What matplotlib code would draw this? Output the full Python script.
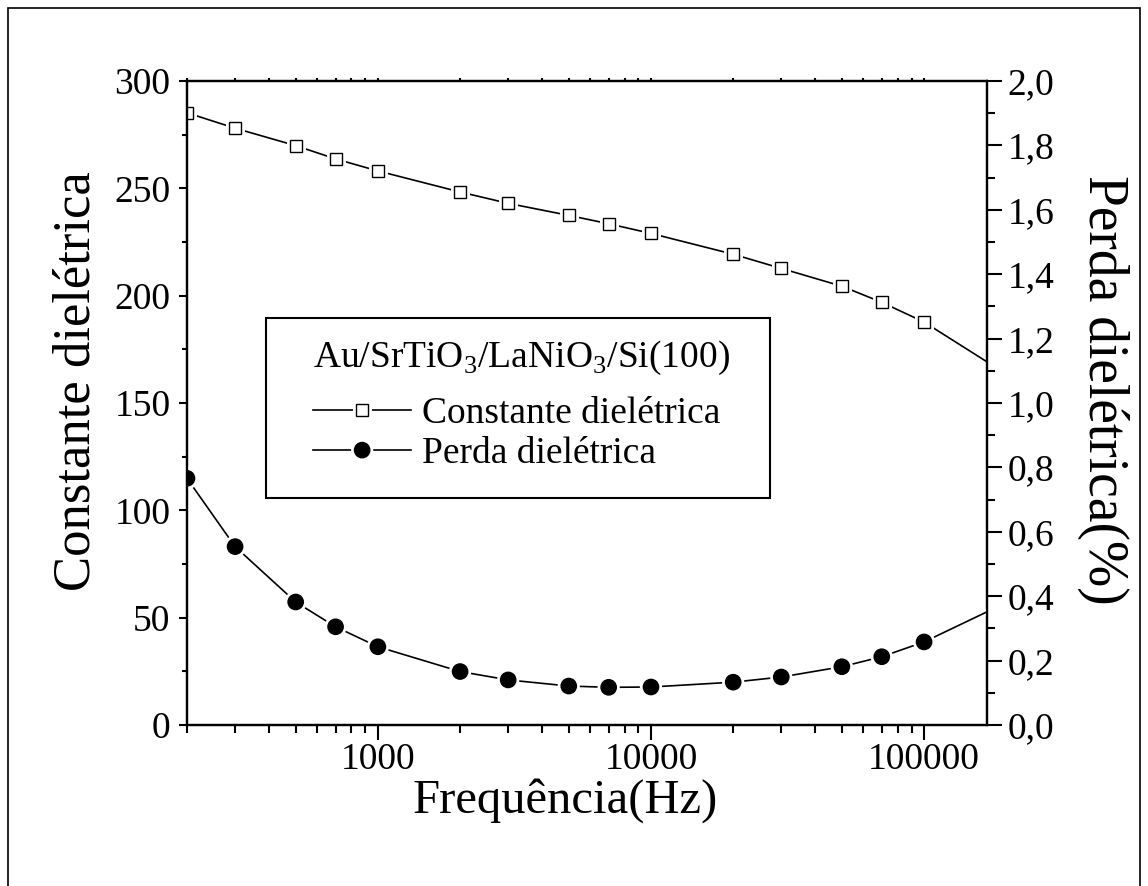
import matplotlib
matplotlib.use('Agg')
import matplotlib.pyplot as plt
import matplotlib.patheffects as pe
from matplotlib.patches import Rectangle
from matplotlib.ticker import FixedLocator, FixedFormatter, LogLocator, NullFormatter, MultipleLocator

# dados
freq = [200, 300, 500, 700, 1000, 2000, 3000, 5000, 7000, 10000,
        20000, 30000, 50000, 70000, 100000, 200000]
constante = [285.2, 278.0, 269.9, 263.7, 258.1, 248.3, 243.0, 237.4, 233.5, 229.0,
             219.3, 212.7, 204.4, 196.9, 187.7, 163.5]
perda = [0.766, 0.554, 0.382, 0.305, 0.243, 0.166, 0.140, 0.121, 0.117, 0.118,
         0.133, 0.149, 0.181, 0.212, 0.258, 0.380]

x_ticks = [1000, 10000, 100000]
x_labels = ['1000', '10000', '100000']
y2_ticks = [0.0, 0.2, 0.4, 0.6, 0.8, 1.0, 1.2, 1.4, 1.6, 1.8, 2.0]
y2_labels = ['0,0', '0,2', '0,4', '0,6', '0,8', '1,0', '1,2', '1,4', '1,6', '1,8', '2,0']

plt.rcParams['font.family'] = ['Liberation Serif', 'DejaVu Serif']
plt.rcParams['mathtext.fontset'] = 'custom'
plt.rcParams['mathtext.rm'] = 'Liberation Serif'

fig = plt.figure(figsize=(11.48, 8.86), dpi=100)
ax = fig.add_axes([187 / 1148, 1 - 725 / 886, 800 / 1148, 644 / 886])
ax2 = ax.twinx()

# moldura externa
fig.patches.append(Rectangle((8 / 1148, -0.1), 1132 / 1148, 878 / 886 + 0.1,
                             transform=fig.transFigure, fill=False,
                             ec='black', lw=1.2))

gap = [pe.Stroke(linewidth=5, foreground='white'), pe.Normal()]
h1, = ax.plot(freq, constante, color='black', lw=1.2, marker='s', ms=8.6,
              mfc='white', mec='black', mew=1.0, path_effects=gap,
              label='Constante dielétrica')
h2, = ax2.plot(freq, perda, color='black', lw=1.2, marker='o', ms=11,
               mfc='black', mec='black', mew=1.0, path_effects=gap,
               label='Perda dielétrica')

ax.set_xscale('log')
ax.set_xlim(200, 1.7e5)
ax.set_ylim(0, 300)
ax2.set_ylim(0, 2.0)

ax.xaxis.set_major_locator(FixedLocator(x_ticks))
ax.xaxis.set_major_formatter(FixedFormatter(x_labels))
ax.xaxis.set_minor_locator(LogLocator(subs=range(2, 10)))
ax.xaxis.set_minor_formatter(NullFormatter())
ax.yaxis.set_major_locator(MultipleLocator(50))
ax.yaxis.set_minor_locator(MultipleLocator(25))
ax2.yaxis.set_major_locator(FixedLocator(y2_ticks))
ax2.yaxis.set_major_formatter(FixedFormatter(y2_labels))
ax2.yaxis.set_minor_locator(MultipleLocator(0.1))

for a in (ax, ax2):
    for s in a.spines.values():
        s.set_linewidth(1.6)

ax.tick_params(axis='x', which='major', direction='out', length=10.8, width=1.5,
               labelsize=27, pad=2)
ax.tick_params(axis='x', which='minor', direction='out', length=5.8, width=1.5)
ax.tick_params(axis='y', which='major', direction='out', length=5.8, width=1.5,
               labelsize=27, pad=6)
ax.tick_params(axis='y', which='minor', direction='out', length=3.6, width=1.5)
ax2.tick_params(axis='y', which='major', direction='out', length=10.8, width=1.5,
                labelsize=27, pad=4)
ax2.tick_params(axis='y', which='minor', direction='out', length=5.8, width=1.5)

# pequenos tracos no eixo superior
ax2.xaxis.set_visible(True)
ax2.tick_params(axis='x', which='both', bottom=False, top=True, labelbottom=False,
                labeltop=False, direction='out', length=2.2, width=1.5)

ax.set_xlabel('Frequência(Hz)', fontsize=35)
ax.xaxis.set_label_coords(0.4725, -0.082)
ax.set_ylabel('Constante dielétrica', fontsize=38, labelpad=10)
ax.yaxis.label.set_y(0.534)
ax2.set_ylabel('Perda dielétrica(%)', fontsize=40, rotation=270, labelpad=54)
ax2.yaxis.label.set_y(0.52)

# legenda
ax2.add_patch(Rectangle((0.099, 0.3525), 0.63, 0.2795, transform=ax2.transAxes,
                        fc='white', ec='black', lw=1.5, zorder=4))
leg = ax2.legend(handles=[h1, h2], title='Au/SrTiO$_\\mathrm{3}$/LaNiO$_\\mathrm{3}$/Si(100)',
                 loc='upper left', bbox_to_anchor=(0.158, 0.5995), frameon=False,
                 fontsize=27, title_fontsize=27, borderpad=0, borderaxespad=0,
                 handlelength=2.6, handletextpad=0.3, labelspacing=0.15,
                 alignment='left')
leg._legend_box.sep = 14
leg.set_zorder(5)

fig.savefig('out.png', dpi=100)
